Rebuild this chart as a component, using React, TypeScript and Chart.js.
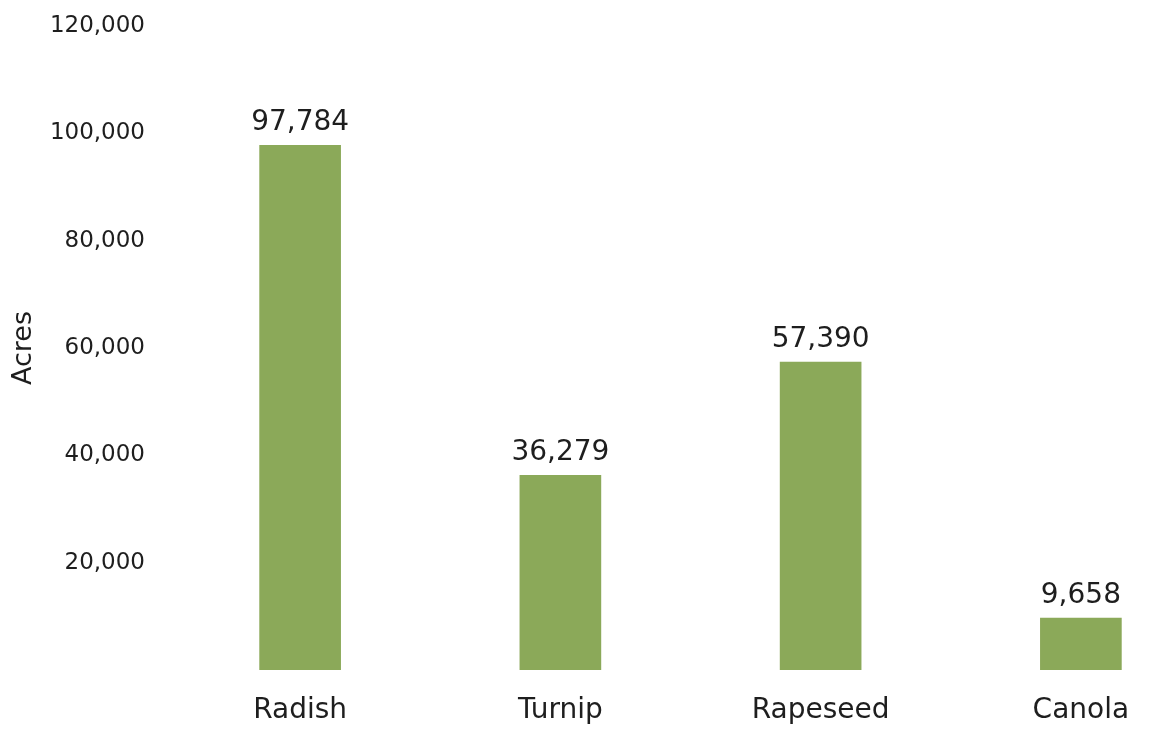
import React, { useEffect, useRef } from "react";
import { Chart, registerables } from "chart.js";

Chart.register(...registerables);

const categories = ["Radish", "Turnip", "Rapeseed", "Canola"];
const acres = [97784, 36279, 57390, 9658];
const yTicks = [0, 20000, 40000, 60000, 80000, 100000, 120000];

const FONT = "'DejaVu Sans', sans-serif";
const BAR_COLOR = "#8BA959";
const TEXT_COLOR = "#1e1e1e";

const fmt = (v: number) => v.toLocaleString("en-US");

const valueLabels = {
  id: "valueLabels",
  afterDatasetsDraw(chart: any) {
    const ctx = chart.ctx;
    const meta = chart.getDatasetMeta(0);
    ctx.save();
    ctx.font = `28px ${FONT}`;
    ctx.fillStyle = TEXT_COLOR;
    ctx.textAlign = "center";
    ctx.textBaseline = "alphabetic";
    meta.data.forEach((el: any, i: number) => {
      ctx.fillText(fmt(acres[i]), el.x, el.y - 15);
    });
    ctx.restore();
  },
};

export default function App() {
  const ref = useRef<HTMLCanvasElement | null>(null);
  useEffect(() => {
    document.body.style.margin = "0";
    const chart = new Chart(ref.current!, {
      type: "bar",
      data: {
        labels: categories,
        datasets: [
          {
            data: acres,
            backgroundColor: BAR_COLOR,
            borderWidth: 0,
            barThickness: 81,
          },
        ],
      },
      options: {
        animation: false,
        responsive: false,
        layout: { padding: { top: 0, bottom: 0, left: 0, right: 0 } },
        plugins: {
          legend: { display: false },
          tooltip: { enabled: false },
        },
        scales: {
          x: {
            grid: { display: false, drawTicks: false },
            border: { display: false },
            afterFit: (scale: any) => {
              scale.height = 59;
            },
            ticks: {
              color: TEXT_COLOR,
              font: { family: FONT, size: 28 },
              padding: 24,
            },
          },
          y: {
            min: 0,
            max: 120000,
            afterBuildTicks: (scale: any) => {
              scale.ticks = yTicks.map((v) => ({ value: v }));
            },
            afterFit: (scale: any) => {
              scale.width = 170;
              scale.paddingTop = 26;
              scale.paddingBottom = 0;
            },
            grid: { display: false, drawTicks: false },
            border: { display: false },
            ticks: {
              color: TEXT_COLOR,
              font: { family: FONT, size: 23 },
              padding: 25,
              callback: (v: any) => (Number(v) === 0 ? "" : fmt(Number(v))),
            },
            title: {
              display: true,
              text: "Acres",
              color: TEXT_COLOR,
              font: { family: FONT, size: 27 },
              padding: { top: 8, bottom: 0 },
            },
          },
        },
      },
      plugins: [valueLabels],
    });
    return () => chart.destroy();
  }, []);

  return (
    <div style={{ width: 1157, height: 729, overflow: "hidden", background: "#fff" }}>
      <canvas ref={ref} width={1211} height={729} style={{ display: "block" }} />
    </div>
  );
}
